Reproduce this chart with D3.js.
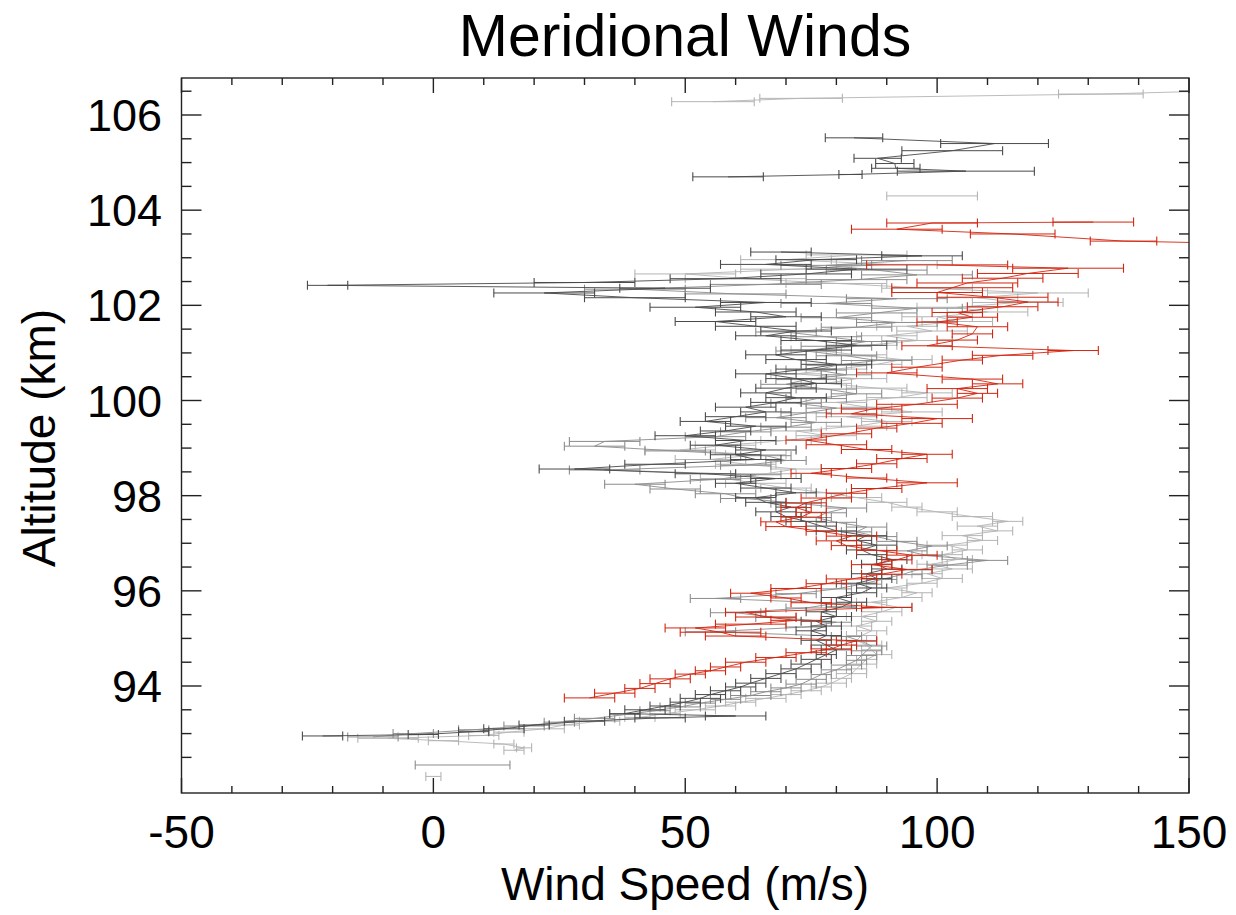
<!DOCTYPE html>
<html>
<head>
<meta charset="utf-8">
<script src="https://cdn.jsdelivr.net/npm/d3@7"></script>
<style>
  body { margin: 0; background: #fff; }
  text { font-family: "Liberation Sans", Arial, sans-serif; fill: #000; }
</style>
</head>
<body>
<svg id="chart" width="1236" height="915"></svg>
<script>
// [altitude km, wind m/s, error m/s]; [null] breaks the line
const lightProfile = [
  [92.10, 0, 1.5], [null],
  [92.65, 16, 2], [92.70, 18, 1.5], [92.78, 14, 2], [92.85, 2, 3], [92.90, -9, 6], [92.96, 10, 3], [93.03, 15, 3],
  [93.10, 22, 4], [93.18, 26, 3], [93.26, 33, 4], [93.34, 41, 3], [93.42, 46, 3], [93.50, 52, 4], [93.58, 57, 3],
  [93.66, 61, 3], [93.74, 66, 4], [93.82, 70, 3], [93.90, 74, 3], [93.98, 77, 2], [94.06, 79, 3], [94.16, 81, 2],
  [94.26, 83, 3], [94.36, 84, 2], [94.46, 85, 3], [94.56, 86, 2], [94.66, 88, 3], [94.76, 87, 2], [94.86, 86, 3],
  [94.96, 84, 2], [95.06, 85, 3], [95.16, 87, 3], [95.26, 84, 3], [95.36, 88, 3], [95.46, 85, 3], [95.56, 89, 4],
  [95.66, 92, 3], [95.76, 87, 3], [95.86, 93, 4], [95.96, 96, 3], [96.06, 90, 4], [96.16, 97, 3], [96.26, 101, 4],
  [96.36, 98, 3], [96.46, 103, 4], [96.56, 99, 3], [96.66, 104, 3], [96.76, 101, 4], [96.86, 106, 3], [96.96, 102, 4],
  [97.06, 109, 3], [97.16, 105, 4], [97.26, 112, 3], [97.36, 108, 4], [97.46, 114, 3], [97.56, 107, 4], [97.66, 100, 4],
  [97.76, 94, 3], [97.86, 90, 4], [97.96, 84, 5], [98.06, 78, 4], [98.16, 70, 5], [98.26, 64, 6], [98.36, 58, 5],
  [98.46, 66, 6], [98.56, 72, 5], [98.66, 62, 6], [98.76, 55, 7], [98.86, 64, 6], [98.96, 49, 7], [99.06, 58, 6],
  [99.16, 70, 5], [99.26, 78, 6], [99.36, 72, 5], [99.46, 84, 6], [99.56, 90, 5], [99.66, 82, 6], [99.76, 95, 6],
  [99.86, 86, 5], [99.96, 80, 6], [100.06, 92, 6], [100.16, 98, 5], [100.26, 88, 6], [100.36, 78, 5], [100.46, 84, 6],
  [100.56, 72, 5], [100.66, 80, 6], [100.76, 88, 5], [100.86, 93, 6], [100.96, 84, 6], [101.06, 76, 5], [101.16, 86, 6],
  [101.26, 96, 7], [101.36, 90, 6], [101.46, 99, 7], [101.56, 94, 6], [101.66, 104, 7], [101.76, 100, 7], [101.86, 110, 8],
  [101.96, 104, 8], [102.06, 116, 9], [102.16, 108, 8], [102.26, 120, 10], [102.36, 98, 9], [102.46, 80, 10], [102.56, 62, 12],
  [102.66, 50, 10], [102.76, 72, 11], [102.86, 90, 10], [102.96, 70, 9], [103.06, 84, 10], [null],
  [104.30, 99, 9], [null],
  [106.28, 55.5, 8.2], [106.35, 73, 8.2], [106.44, 132.5, 8.4], [106.52, 160, 8]
];

const midProfile = [
  [92.34, 5.8, 9.4], [null],
  [92.93, -12, 5], [93.00, -4, 4], [93.08, 8, 3], [93.16, 18, 4], [93.24, 25, 3], [93.32, 32, 4], [93.40, 38, 3],
  [93.48, 44, 3], [93.56, 49, 4], [93.64, 53, 3], [93.72, 58, 3], [93.80, 63, 4], [93.88, 66, 3], [93.96, 70, 3],
  [94.04, 73, 3], [94.14, 75, 3], [94.24, 77, 2], [94.34, 80, 3], [94.44, 82, 3], [94.54, 84, 2], [94.64, 85, 3],
  [94.74, 86, 3], [94.84, 87, 3], [94.94, 85, 3], [95.04, 82, 3], [95.14, 55, 5], [95.24, 74, 4], [95.34, 80, 3],
  [95.44, 68, 4], [95.54, 60, 5], [95.64, 74, 4], [95.74, 80, 3], [95.84, 56, 5], [95.94, 72, 4], [96.04, 80, 3],
  [96.14, 85, 4], [96.24, 89, 3], [96.34, 93, 4], [96.44, 96, 3], [96.54, 102, 4], [96.64, 110, 4], [96.74, 98, 3],
  [96.84, 94, 4], [96.94, 99, 3], [97.04, 92, 4], [97.14, 88, 4], [97.24, 84, 3], [97.34, 86, 4], [97.44, 80, 4],
  [97.54, 76, 3], [97.64, 78, 4], [97.74, 82, 4], [97.84, 72, 5], [97.94, 62, 5], [98.04, 58, 6], [98.14, 48, 5],
  [98.24, 40, 6], [98.34, 56, 5], [98.44, 64, 5], [98.54, 34, 7], [98.64, 62, 5], [98.74, 70, 4], [98.84, 66, 5],
  [98.94, 48, 6], [99.04, 32, 6], [99.14, 34, 7], [99.24, 56, 6], [99.34, 62, 5], [99.44, 70, 5], [99.54, 76, 5],
  [99.64, 68, 6], [99.74, 74, 5], [99.84, 80, 6], [99.94, 72, 5], [100.04, 76, 6], [100.14, 84, 5], [100.24, 78, 6],
  [100.34, 70, 5], [100.44, 74, 6], [100.54, 82, 5], [100.64, 76, 6], [100.74, 80, 6], [100.84, 88, 7], [100.94, 82, 6],
  [101.04, 74, 6], [101.14, 80, 7], [101.24, 86, 6], [101.34, 78, 7], [101.44, 70, 6], [101.54, 84, 7], [101.64, 92, 8],
  [101.74, 80, 7], [101.84, 88, 8], [101.94, 96, 9], [102.04, 78, 9], [102.14, 92, 10], [102.24, 60, 10], [102.34, 40, 10],
  [102.44, 66, 11], [102.54, 84, 10], [102.64, 96, 11], [102.74, 88, 10], [102.84, 78, 9], [102.94, 94, 9]
];

const darkProfile = [
  [92.95, -22, 4], [92.98, -2, 3], [93.04, 8, 3], [93.10, 14, 4], [93.18, 20, 3], [93.26, 30, 4], [93.33, 45, 5],
  [93.37, 60, 6], [93.42, 38, 3], [93.50, 42, 4], [93.58, 46, 3], [93.66, 50, 3], [93.74, 53, 4], [93.82, 55, 3],
  [93.90, 58, 3], [93.98, 61, 3], [94.06, 63, 3], [94.16, 66, 3], [94.26, 69, 3], [94.36, 72, 3], [94.46, 74, 3],
  [94.56, 76, 3], [94.66, 78, 2], [94.76, 80, 3], [94.86, 78, 3], [94.96, 76, 3], [95.06, 78, 3], [95.16, 75, 3],
  [95.26, 78, 3], [95.36, 76, 3], [95.46, 80, 3], [95.56, 77, 3], [95.66, 81, 3], [95.76, 83, 3], [95.86, 80, 3],
  [95.96, 85, 3], [96.06, 87, 3], [96.16, 84, 4], [96.26, 88, 3], [96.36, 86, 3], [96.46, 90, 3], [96.56, 88, 3],
  [96.66, 91, 3], [96.76, 87, 3], [96.86, 85, 3], [96.96, 88, 4], [97.06, 84, 3], [97.16, 86, 4], [97.26, 80, 4],
  [97.36, 77, 3], [97.46, 74, 4], [97.56, 70, 3], [97.66, 68, 4], [97.76, 71, 3], [97.86, 66, 4], [97.96, 64, 4],
  [98.06, 72, 4], [98.16, 66, 5], [98.26, 60, 4], [98.36, 68, 5], [98.46, 54, 6], [98.56, 28, 7], [98.66, 44, 6],
  [98.76, 64, 5], [98.86, 60, 5], [98.96, 66, 6], [99.06, 56, 5], [99.16, 62, 6], [99.26, 50, 6], [99.36, 58, 5],
  [99.46, 64, 6], [99.56, 54, 5], [99.66, 60, 6], [99.76, 66, 5], [99.86, 62, 6], [99.96, 68, 5], [100.06, 72, 6],
  [100.16, 66, 5], [100.26, 70, 6], [100.36, 76, 5], [100.46, 72, 6], [100.56, 66, 6], [100.66, 74, 6], [100.76, 80, 7],
  [100.86, 72, 6], [100.96, 68, 6], [101.06, 76, 7], [101.16, 84, 6], [101.26, 76, 7], [101.36, 66, 6], [101.46, 72, 7],
  [101.56, 64, 8], [101.66, 56, 8], [101.76, 70, 7], [101.86, 64, 8], [101.96, 52, 9], [102.06, 66, 9], [102.16, 40, 10],
  [102.26, 22, 10], [102.36, 46, 9], [102.42, -21, 4], [102.48, 30, 10], [102.56, 58, 11], [102.66, 74, 9],
  [102.76, 84, 10], [102.86, 66, 9], [102.96, 76, 8], [103.04, 97, 8], [103.12, 69, 6], [null],
  [104.70, 58.5, 7], [104.75, 82.8, 2.3], [104.82, 105.7, 13.6], [104.88, 91.8, 4.8], [104.98, 91.6, 3.8],
  [105.09, 88.2, 4.7], [105.25, 103, 10], [105.40, 111.4, 10.7], [105.52, 83.5, 5.7]
];

const redProfile = [
  [93.75, 31, 5], [93.85, 36, 4], [93.95, 41, 3], [94.05, 44, 3], [94.15, 47, 4], [94.25, 51, 3], [94.32, 55, 3],
  [94.40, 58, 3], [94.50, 62, 4], [94.60, 68, 4], [94.70, 74, 4], [94.78, 79, 4], [94.86, 81, 3], [94.95, 84, 4],
  [95.05, 60, 6], [95.13, 57, 8], [95.22, 52, 6], [95.30, 63, 7], [95.38, 72, 5], [95.45, 66, 6], [95.55, 62, 4],
  [95.65, 90, 5], [95.75, 75, 4], [95.85, 70, 3], [95.95, 63, 4], [96.05, 72, 5], [96.15, 78, 4], [96.25, 83, 5],
  [96.35, 89, 4], [96.45, 94, 5], [96.55, 87, 4], [96.65, 92, 3], [96.75, 95, 5], [96.85, 88, 4], [96.95, 82, 3],
  [97.05, 80, 4], [97.15, 83, 5], [97.25, 77, 3], [97.35, 70, 4], [97.45, 68, 3], [97.55, 73, 4], [97.65, 75, 3],
  [97.75, 72, 3], [97.85, 74, 4], [97.95, 78, 5], [98.05, 82, 4], [98.15, 88, 5], [98.27, 98, 6], [98.37, 86, 4],
  [98.47, 75, 4], [98.57, 82, 5], [98.67, 88, 4], [98.78, 93, 5], [98.87, 98, 5], [98.97, 86, 5], [99.07, 80, 6],
  [99.17, 74, 4], [99.30, 82, 5], [99.42, 88, 4], [99.52, 95, 6], [99.62, 100, 7], [99.72, 83, 5], [99.82, 87, 6],
  [99.92, 96, 8], [100.05, 104, 5], [100.15, 108, 4], [100.25, 104, 6], [100.35, 112, 5], [100.45, 107, 6],
  [100.58, 90, 6], [100.70, 96, 5], [100.85, 105, 4], [100.95, 113, 6], [101.05, 127, 5], [101.15, 98, 5],
  [101.27, 104, 4], [101.40, 107, 4], [101.55, 108, 6], [101.65, 100, 4], [101.75, 107, 5], [101.85, 104, 5],
  [101.97, 113, 7], [102.07, 118, 6], [102.17, 111, 11], [102.27, 100, 9], [102.37, 103, 12], [102.47, 106, 10],
  [102.57, 113, 8], [102.67, 118, 10], [102.78, 126, 11], [102.85, 100, 14], [null],
  [103.30, 160, 8], [103.35, 137, 6.6], [103.50, 115, 8.4], [103.60, 92, 9], [103.73, 99, 9], [103.75, 131, 8]
];

const series = [
  { name: "light", data: lightProfile, color: "#b4b4b4" },
  { name: "mid", data: midProfile, color: "#8c8c8c" },
  { name: "dark", data: darkProfile, color: "#4a4a4a" },
  { name: "red", data: redProfile, color: "#d2250f" }
];

const xTicks = [-50, 0, 50, 100, 150];
const yTicks = [94, 96, 98, 100, 102, 104, 106];

const svg = d3.select("#chart");
const plotLeft = 181.5, plotRight = 1189, plotTop = 78, plotBottom = 793;

let x = d3.scaleLinear().domain([-50, 150]).range([plotLeft, plotRight]);
let y = d3.scaleLinear().domain([94, 106]).range([686, 115]);

svg.append("clipPath").attr("id", "plotClip")
  .append("rect")
    .attr("x", plotLeft).attr("y", plotTop)
    .attr("width", plotRight - plotLeft).attr("height", plotBottom - plotTop);

const plot = svg.append("g").attr("clip-path", "url(#plotClip)");

let line = d3.line()
  .defined(d => d[1] != null)
  .x(d => x(d[1]))
  .y(d => y(d[0]));

for (let s of series) {
  let g = plot.append("g").attr("stroke", s.color).attr("fill", "none");
  let pts = s.data.filter(d => d[1] != null);

  g.append("path")
    .attr("d", line(s.data))
    .attr("stroke-width", 0.9);

  g.selectAll(".bar")
    .data(pts)
    .enter().append("line")
      .attr("x1", d => x(d[1] - d[2]))
      .attr("x2", d => x(d[1] + d[2]))
      .attr("y1", d => y(d[0]))
      .attr("y2", d => y(d[0]))
      .attr("stroke-width", 1);

  g.selectAll(".capL")
    .data(pts)
    .enter().append("line")
      .attr("x1", d => x(d[1] - d[2]))
      .attr("x2", d => x(d[1] - d[2]))
      .attr("y1", d => y(d[0]) - 4.5)
      .attr("y2", d => y(d[0]) + 4.5)
      .attr("stroke-width", 1.1);

  g.selectAll(".capR")
    .data(pts)
    .enter().append("line")
      .attr("x1", d => x(d[1] + d[2]))
      .attr("x2", d => x(d[1] + d[2]))
      .attr("y1", d => y(d[0]) - 4.5)
      .attr("y2", d => y(d[0]) + 4.5)
      .attr("stroke-width", 1.1);
}

// frame and ticks (IDL style, mirrored on all four sides)
const axisColor = "#222";
const frame = svg.append("g").attr("stroke", axisColor).attr("stroke-width", 1.4);

frame.append("rect")
  .attr("x", plotLeft).attr("y", plotTop)
  .attr("width", plotRight - plotLeft).attr("height", plotBottom - plotTop)
  .attr("fill", "none");

let xMinor = d3.range(-40, 150, 10).filter(v => v % 50 != 0);
let yMinor = d3.range(92.5, 107, 0.5).filter(v => v % 2 != 0 && y(v) > plotTop && y(v) < plotBottom);

for (let v of xTicks) {
  frame.append("line").attr("x1", x(v)).attr("x2", x(v)).attr("y1", plotBottom).attr("y2", plotBottom - 15);
  frame.append("line").attr("x1", x(v)).attr("x2", x(v)).attr("y1", plotTop).attr("y2", plotTop + 15);
}
for (let v of xMinor) {
  frame.append("line").attr("x1", x(v)).attr("x2", x(v)).attr("y1", plotBottom).attr("y2", plotBottom - 7);
  frame.append("line").attr("x1", x(v)).attr("x2", x(v)).attr("y1", plotTop).attr("y2", plotTop + 7);
}
for (let v of yTicks) {
  frame.append("line").attr("x1", plotLeft).attr("x2", plotLeft + 20).attr("y1", y(v)).attr("y2", y(v));
  frame.append("line").attr("x1", plotRight).attr("x2", plotRight - 20).attr("y1", y(v)).attr("y2", y(v));
}
for (let v of yMinor) {
  frame.append("line").attr("x1", plotLeft).attr("x2", plotLeft + 10).attr("y1", y(v)).attr("y2", y(v));
  frame.append("line").attr("x1", plotRight).attr("x2", plotRight - 10).attr("y1", y(v)).attr("y2", y(v));
}

// labels
svg.selectAll(".xlab")
  .data(xTicks)
  .enter().append("text")
    .attr("x", d => x(d))
    .attr("y", 848)
    .attr("text-anchor", "middle")
    .style("font-size", "46px")
    .text(d => d);

svg.selectAll(".ylab")
  .data(yTicks)
  .enter().append("text")
    .attr("x", 162)
    .attr("y", d => y(d) + 16)
    .attr("text-anchor", "end")
    .style("font-size", "45px")
    .text(d => d);

svg.append("text")
  .attr("x", 685).attr("y", 56)
  .attr("text-anchor", "middle")
  .style("font-size", "59px")
  .text("Meridional Winds");

svg.append("text")
  .attr("x", 685).attr("y", 900)
  .attr("text-anchor", "middle")
  .style("font-size", "46px")
  .text("Wind Speed (m/s)");

svg.append("text")
  .attr("transform", "translate(55,438) rotate(-90)")
  .attr("text-anchor", "middle")
  .style("font-size", "46px")
  .text("Altitude (km)");
</script>
</body>
</html>
